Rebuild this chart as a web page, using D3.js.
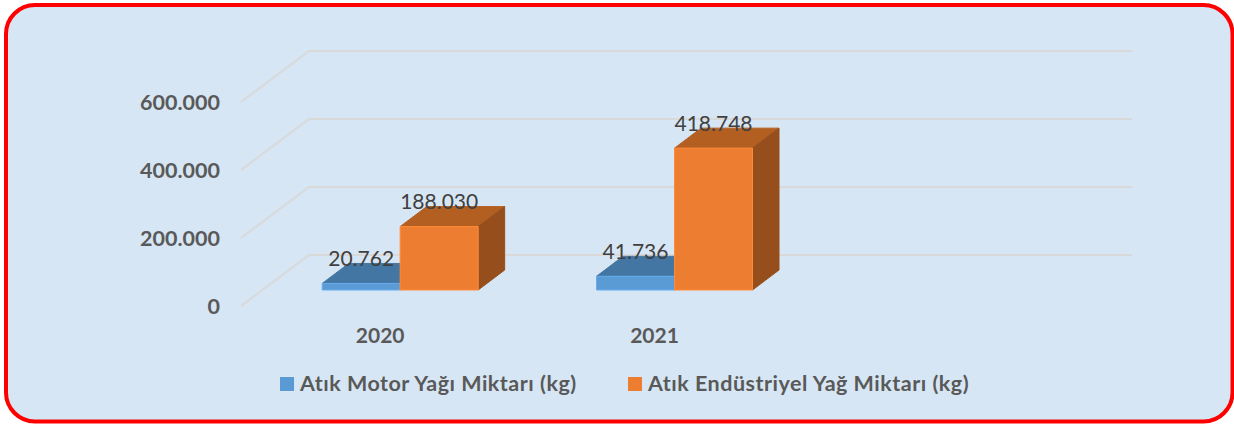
<!DOCTYPE html>
<html><head><meta charset="utf-8">
<script src="https://cdn.jsdelivr.net/npm/d3@7/dist/d3.min.js"></script>
<style>html,body{margin:0;padding:0;background:#fff}svg{display:block}</style>
</head><body><svg id="c" width="1234" height="424"></svg>
<script>
const categories = ["2020", "2021", ""];
const motorValues = [20762, 41736, null];
const endustriValues = [188030, 418748, null];
const tickValues = [0, 200000, 400000, 600000];
const seriesNames = ["Atık Motor Yağı Miktarı (kg)", "Atık Endüstriyel Yağ Miktarı (kg)"];
const fmt = v => d3.format(",")(v).replace(/,/g, ".");

const svg = d3.select("#c");
const font = "Lato, Carlito, sans-serif";
const textCol = "#595959", labelCol = "#404040";
svg.append("rect").attr("x",6).attr("y",5).attr("width",1226.5).attr("height",416.5).attr("rx",29)
  .attr("fill","#d7e6f4").attr("stroke","#ff0000").attr("stroke-width",4);

const x = d3.scaleBand().domain(categories).range([241,1064]);
const y = d3.scaleLinear().domain([0,600000]).range([306,102]);
const wallDx = 68, wallDy = 51;

const grid = svg.append("g");
tickValues.forEach(t => {
  const p = [[241,y(t)],[241+wallDx,y(t)-wallDy],[1064+wallDx,y(t)-wallDy]];
  grid.append("path").attr("d",d3.line()(p)).attr("fill","none").attr("stroke","#d9d9d9").attr("stroke-width",2);
});

const axis = d3.axisLeft(y).tickValues(tickValues).tickSize(0).tickPadding(0).tickFormat(fmt);
const ay = svg.append("g").attr("transform","translate(220,1)").call(axis);
ay.select(".domain").remove();
ay.selectAll("text").attr("font-family",font).attr("font-weight",700).attr("font-size",21.5).attr("fill",textCol);

const ax = d3.axisBottom(x).tickSize(0).tickPadding(0);
const gx = svg.append("g").attr("transform","translate(2,328)").call(ax);
gx.select(".domain").remove();
gx.selectAll("text").attr("font-family",font).attr("font-weight",700).attr("font-size",21).attr("fill",textCol);

const offX = 22, offY = 16, depthX = 26.5, depthY = 20, barW = 78;
const series = [
  {vals:motorValues, front:"#5b9bd5", top:"#4476a3", side:"#3a6690", shift:-barW},
  {vals:endustriValues, front:"#ed7d31", top:"#b45f22", side:"#964f1c", shift:0}
];
const bars = svg.append("g");
const labels = [];
series.forEach(s => {
  categories.forEach((c,i) => {
    const v = s.vals[i];
    if (v == null) return;
    const x0 = x(c)+x.bandwidth()/2+offX+s.shift, x1 = x0+barW;
    const yb = y(0)-offY, yt = y(v)-offY+0.5;
    const poly = (pts,f,st) => bars.append("polygon").attr("points",pts.join(" ")).attr("fill",f)
      .attr("stroke",st).attr("stroke-width",1);
    poly([[x0,yt],[x0+depthX,yt-depthY],[x1+depthX,yt-depthY],[x1,yt]],s.top,s.top);
    poly([[x1,yt],[x1+depthX,yt-depthY],[x1+depthX,yb-depthY],[x1,yb]],s.side,s.side);
    poly([[x0,yt],[x1,yt],[x1,yb],[x0,yb]],s.front,d3.color(s.front).brighter(0.3));
    labels.push({t:fmt(v),x:x0+39,y:yt-19});
  });
});
svg.append("g").selectAll("text").data(labels).join("text")
  .attr("x",d=>d.x).attr("y",d=>d.y+1.5).attr("text-anchor","middle")
  .attr("font-family",font).attr("font-size",21).attr("fill",labelCol).text(d=>d.t);

const legX = [280, 628];
const leg = svg.append("g").selectAll("g").data(seriesNames).join("g")
  .attr("transform",(d,i)=>`translate(${legX[i]},377)`);
leg.append("rect").attr("width",14).attr("height",14).attr("fill",(d,i)=>series[i].front);
leg.append("text").attr("x",20).attr("y",14).attr("font-family",font).attr("font-weight",700)
  .attr("font-size",21.5).attr("letter-spacing",0.5).attr("fill",textCol).text(d=>d);
</script></body></html>
